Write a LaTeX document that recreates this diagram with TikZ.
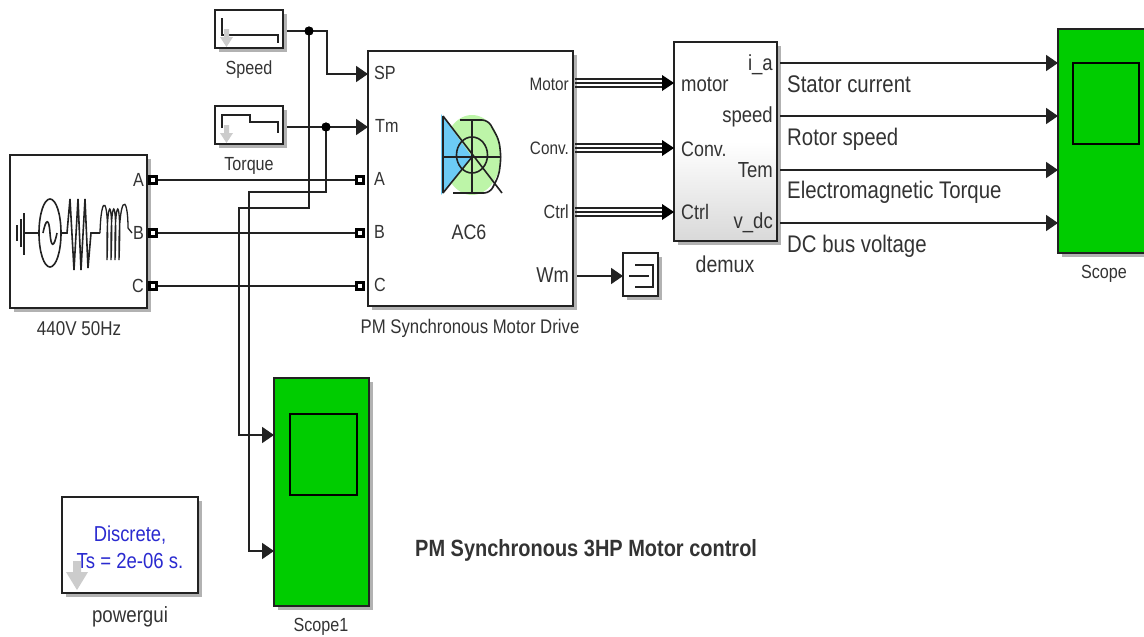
\documentclass[tikz,border=0pt]{standalone}
\usepackage{fontspec}
\setmainfont[FakeStretch=0.85]{Liberation Sans}
\usetikzlibrary{shadows,arrows.meta}
\definecolor{ink}{HTML}{222222}
\definecolor{txt}{HTML}{333333}
\definecolor{scopegreen}{HTML}{00CC00}
\definecolor{iconblue}{HTML}{6CCBF5}
\definecolor{icongreen}{HTML}{BDF5A8}
\definecolor{guiblue}{HTML}{2A2AD0}
\newcommand{\fs}[1]{\fontsize{#1}{#1}\selectfont}
\tikzset{
  x=1pt,y=-1pt,
  blockbox/.style={draw=ink,line width=2pt,outer sep=0pt,fill=white,rectangle,inner sep=0pt,anchor=north west,
    drop shadow={shadow xshift=4pt,shadow yshift=-4pt,opacity=.3,fill=black}},
  screen/.style={draw=black,line width=1.7pt,outer sep=0pt,inner sep=0pt,anchor=north west},
  lab/.style={text=txt,inner sep=0pt,font=\fs{19}},
  sublab/.style={text=txt,inner sep=0pt,font=\fs{21.8}},
  biglab/.style={text=txt,inner sep=0pt,font=\fs{24},anchor=base west},
  wire/.style={draw=ink,line width=1.9pt},
  sig/.style={wire,-{Triangle[length=12pt,width=16pt,sep=0pt]}},
  bus/.style={draw=ink,line width=1.4pt},
  bushead/.style={fill=black,draw=none},
  dot/.style={circle,fill=black,inner sep=0pt,minimum size=9pt},
  port/.style={rectangle,draw=black,line width=3pt,fill=white,inner sep=0pt,minimum size=7.5pt,outer sep=0pt},
  icon/.style={draw=ink,line width=1.6pt},
  coil/.style={draw=ink,line width=1.3pt},
  ghost/.style={fill=gray!40,draw=none}
}
\begin{document}
\begin{tikzpicture}
\useasboundingbox (0,0) rectangle (1144,637);
% blocks
\node[blockbox,minimum width=137pt,minimum height=153pt] (src) at (10,155) {};
\node[blockbox,minimum width=68pt,minimum height=38pt] (speed) at (215,10) {};
\node[blockbox,minimum width=68pt,minimum height=38pt] (torque) at (215,106) {};
\node[blockbox,minimum width=205pt,minimum height=255pt] (drive) at (368,51) {};
\node[blockbox,minimum width=103pt,minimum height=199pt,top color=white,bottom color=gray!30,middle color=white] (demux) at (674,42) {};
\node[blockbox,minimum width=100pt,minimum height=224pt,fill=scopegreen] (scope) at (1058,29) {};
\node[blockbox,minimum width=95pt,minimum height=228pt,fill=scopegreen] (scopeb) at (274,378) {};
\node[blockbox,minimum width=136pt,minimum height=96pt] (gui) at (62,497) {};
\node[blockbox,minimum width=35pt,minimum height=43pt] (term) at (623,253) {};
\node[screen,minimum width=66pt,minimum height=81pt] (scopescr) at (1073,63) {};
\node[screen,minimum width=67pt,minimum height=81pt] (scopebscr) at (290,414) {};
% block labels
\node[lab,font=\fs{20}] (lsrc) at (79,329) {440V 50Hz};
\node[lab] (lspeed) at (249,70) {Speed};
\node[lab] (ltorque) at (249,166) {Torque};
\node[lab,font=\fs{19.7}] (ldrive) at (470,328) {PM Synchronous Motor Drive};
\node[lab,font=\fs{23}] (ldemux) at (725,264) {demux};
\node[lab] (lscope) at (1104,274) {Scope};
\node[lab] (lscopeb) at (321,627) {Scope1};
\node[lab,font=\fs{22}] (lgui) at (130,617) {powergui};
\node[lab,font=\bfseries\fs{23.5},anchor=west] (title) at (415,550) {PM Synchronous 3HP Motor control};
\node[lab,text=guiblue,font=\fs{21.6}] (guia) at (130,535) {Discrete,};
\node[lab,text=guiblue,font=\fs{21.8}] (guib) at (130,561) {Ts = 2e-06 s.};
\node[lab,font=\fs{21}] (ac) at (469,232) {AC6};
% port labels
\node[lab,anchor=east] (pa) at (144,180) {A};
\node[lab,anchor=east] (pb) at (144,233) {B};
\node[lab,anchor=east] (pc) at (144,286) {C};
\node[lab,anchor=west] (dsp) at (374,73) {SP};
\node[lab,anchor=west] (dtm) at (375,126) {Tm};
\node[lab,anchor=west] (da) at (374,179) {A};
\node[lab,anchor=west] (db) at (374,232) {B};
\node[lab,anchor=west] (dc) at (374,285) {C};
\node[lab,font=\fs{18},anchor=east] (dmotor) at (569,84) {Motor};
\node[lab,font=\fs{18},anchor=east] (dconv) at (569,148) {Conv.};
\node[lab,anchor=east] (dctrl) at (569,212) {Ctrl};
\node[lab,font=\fs{21.5},anchor=east] (dwm) at (569,275) {Wm};
\node[sublab,anchor=west] (xmotor) at (681,85) {motor};
\node[sublab,font=\fs{21},anchor=west] (xconv) at (681,149) {Conv.};
\node[sublab,font=\fs{21},anchor=west] (xctrl) at (681,212) {Ctrl};
\node[sublab,anchor=east] (xia) at (773,65) {i\_a};
\node[sublab,anchor=east] (xspeed) at (773,117) {speed};
\node[sublab,anchor=east] (xtem) at (773,170) {Tem};
\node[sublab,anchor=east] (xvdc) at (773,223) {v\_dc};
\node[biglab] (l1) at (787,92) {Stator current};
\node[biglab] (l2) at (787,145) {Rotor speed};
\node[biglab] (l3) at (787,198) {Electromagnetic Torque};
\node[biglab] (l4) at (787,252) {DC bus voltage};
% free connector points
\coordinate (speedout) at (287,31);
\coordinate (torqueout) at (287,127);
\coordinate (spin) at (368,74);
\coordinate (tmin) at (368,127);
\coordinate (sa) at (153,180);
\coordinate (sb) at (153,233);
\coordinate (sc) at (153,286);
\coordinate (ia) at (360,180);
\coordinate (ib) at (360,233);
\coordinate (ic) at (360,286);
\node[dot] (j1) at (309,31) {};
\node[dot] (j2) at (326,127) {};
\coordinate (sbin) at (274,435);
\coordinate (sbin2) at (274,551);
% connectors
\draw[wire] (sa) -- (ia);
\draw[wire] (sb) -- (ib);
\draw[wire] (sc) -- (ic);
\draw[sig] (speedout) -- (327,31) -- (327,74) -- (spin);
\draw[sig] (torqueout) -- (tmin);
\draw[sig] (j1.center) -- (309,208) -- (239,208) -- (239,435) -- (sbin);
\draw[sig] (j2.center) -- (326,192) -- (249,192) -- (249,551) -- (sbin2);
\node[port] at (sa) {};\node[port] at (sb) {};\node[port] at (sc) {};
\node[port] at (ia) {};\node[port] at (ib) {};\node[port] at (ic) {};
\node[dot] at (j1) {};\node[dot] at (j2) {};
\draw[sig] (577,276) -- (term.west |- 0,276);
\foreach \y in {63,116,170,223}{\draw[sig] (780,\y) -- (scope.west |- 0,\y);}
% bus lines
\foreach \y in {83,148,212}{
  \draw[bus] (575,\y-4) -- (665,\y-4);
  \draw[bus] (575,\y) -- (665,\y);
  \draw[bus] (575,\y+4) -- (665,\y+4);
  \fill[bushead] (674,\y) -- (662,\y-8) -- (662,\y+8) -- cycle;
}
% speed icon
\draw[icon] (222,18) -- (222,35) -- (278,35) -- (278,43);
\draw[icon] (222,128) -- (222,115) -- (250,115) -- (250,122) -- (278,122) -- (278,133);
\path[ghost] (224,29) -- (229,29) -- (229,37) -- (233,37) -- (226.5,47) -- (220,37) -- (224,37) -- cycle;
\path[ghost] (224,125) -- (229,125) -- (229,133) -- (233,133) -- (226.5,143) -- (220,133) -- (224,133) -- cycle;
% source icon
\draw[icon] (17,225) -- (17,241) (21,219) -- (21,247) (24,213) -- (24,255) (24,233) -- (39,233);
\draw[icon] (50,233) ellipse [x radius=11,y radius=34];
\draw[icon] (43,233) .. controls (46,218) and (49,218) .. (50,233) .. controls (51,248) and (54,248) .. (57,233);
\draw[icon] (62,233) -- (67,233) -- (70,199) -- (74,270) -- (78,199) -- (81,270) -- (85,199) -- (88,268) -- (91,233) -- (100,233);
\draw[coil] (100,233) .. controls (101,192) and (110,192) .. (107,260)
  .. controls (106,192) and (114,192) .. (111,260)
  .. controls (110,192) and (118,192) .. (115,260)
  .. controls (114,192) and (122,192) .. (119,260)
  .. controls (118,192) and (128,192) .. (128,228) -- (132,233);
% motor icon
\fill[icongreen] (472,155) ellipse [x radius=29,y radius=40];
\fill[iconblue] (441,114) -- (472,157) -- (441,195) -- cycle;
\draw[icon] (443,116) -- (443,193) (443,116) -- (502,193) (443,193) -- (472,157) (443,157) -- (501,157) (472,120) -- (472,193);
\draw[icon,rounded corners=6pt] (460,120) -- (488,120) -- (499,140) -- (501,157) -- (499,175) -- (490,193) -- (453,193);
\draw[icon] (472,155) ellipse [x radius=15.5,y radius=18];
% terminator icon
\draw[icon] (635,265) -- (653,265) -- (653,287) -- (635,287) (629,276) -- (649,276);
% gui arrow
\path[ghost] (73,561) -- (81,561) -- (81,572) -- (88,572) -- (77,590) -- (66,572) -- (73,572) -- cycle;
\end{tikzpicture}
\end{document}
